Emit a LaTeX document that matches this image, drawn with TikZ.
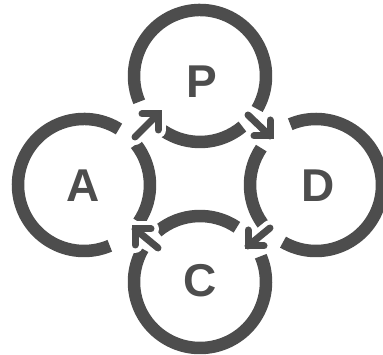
\documentclass[tikz,border=0pt]{standalone}
\usepackage{fontspec}
\setmainfont{Liberation Sans}
\definecolor{ink}{RGB}{77,77,77}
\begin{document}
\begin{tikzpicture}[x=1pt,y=1pt,
  ring/.style={draw=ink,line width=12.5pt},
  letter/.style={text=ink,font=\fontsize{46}{46}\selectfont\bfseries,inner sep=0pt},
  halo/.style={draw=white,line width=16pt,line cap=round,line join=round},
  arr/.style={draw=ink,line width=7pt,line cap=round,line join=miter}]
\useasboundingbox (0,0) rectangle (383,355);
\fill[white] (0,0) rectangle (383,355);
% circle centres
\coordinate (cP) at (200,279);
\coordinate (cD) at (316,170);
\coordinate (cC) at (200,73);
\coordinate (cA) at (84,170);
\def\R{66}
% rings with gaps
\draw[ring] (cP) ++(-30:\R) arc[start angle=-30,end angle=203,radius=\R];
\draw[ring] (cP) ++(236:\R) arc[start angle=236,end angle=310,radius=\R];
\draw[ring] (cD) ++(-120:\R) arc[start angle=-120,end angle=113,radius=\R];
\draw[ring] (cD) ++(146:\R) arc[start angle=146,end angle=220,radius=\R];
\draw[ring] (cC) ++(150:\R) arc[start angle=150,end angle=383,radius=\R];
\draw[ring] (cC) ++(56:\R) arc[start angle=56,end angle=130,radius=\R];
\draw[ring] (cA) ++(58:\R) arc[start angle=58,end angle=293,radius=\R];
\draw[ring] (cA) ++(-34:\R) arc[start angle=-34,end angle=38,radius=\R];
% letters
\node[letter] (P) at (202,273) {P};
\node[letter] (D) at (318,169) {D};
\node[letter] (C) at (200,74) {C};
\node[letter] (A) at (83,169) {A};
% arrow ends
\coordinate (t1) at (135,218); \coordinate (h1) at (158,241);
\coordinate (t2) at (248,240); \coordinate (h2) at (270,219);
\coordinate (t3) at (270,127); \coordinate (h3) at (248,109);
\coordinate (t4) at (158,107); \coordinate (h4) at (135,126);
% halos
\foreach \t/\h/\ax/\ay in {t1/h1/-16/-16, t2/h2/-16/16, t3/h3/16/16, t4/h4/16/-16}{
  \path[halo] (\t) -- (\h);
  \path[halo] (\h) ++(\ax,0) -- (\h) -- ++(0,\ay);
}
% arrows
\foreach \t/\h/\ax/\ay in {t1/h1/-16/-16, t2/h2/-16/16, t3/h3/16/16, t4/h4/16/-16}{
  \path[arr] (\t) -- (\h);
  \path[arr] (\h) ++(\ax,0) -- (\h) -- ++(0,\ay);
}
\end{tikzpicture}
\end{document}
